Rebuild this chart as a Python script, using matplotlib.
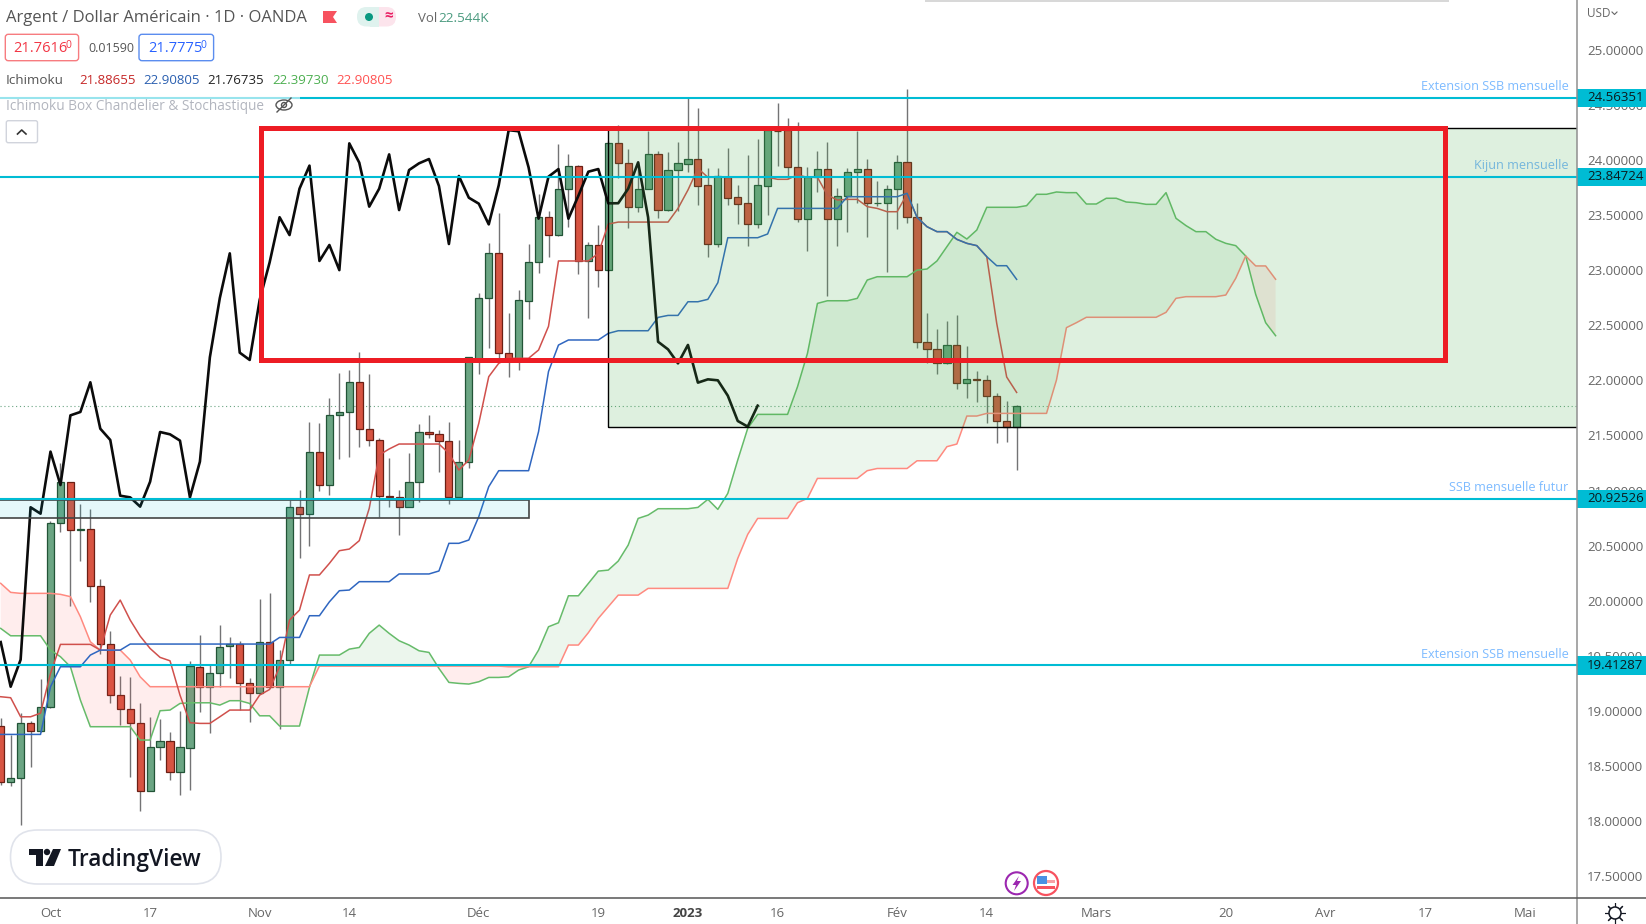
"""
Argent / Dollar Americain, 1D, Ichimoku with box and monthly levels
"""

import numpy as np
import matplotlib.pyplot as plt
from matplotlib.patches import Rectangle, FancyBboxPatch, Circle, Polygon, Ellipse

plt.rcParams['font.family'] = ['Open Sans', 'DejaVu Sans']

#%% Data (first candle is 5 bars before the Oct 3 tick)

first_bar = -5
opens = [18.866, 18.354, 18.388, 18.887, 18.814, 19.035, 20.702, 21.074, 20.642, 20.654,
         20.137, 19.604, 19.144, 19.014, 18.887, 18.276, 18.669, 18.723, 18.445, 18.666,
         19.400, 19.214, 19.347, 19.586, 19.604, 19.256, 19.165, 19.625, 19.220, 19.462,
         20.848, 20.790, 21.353, 21.050, 21.682, 21.713, 21.982, 21.561, 21.459, 20.953,
         20.944, 20.854, 21.080, 21.531, 21.510, 21.453, 20.938, 21.262, 22.193, 22.750,
         23.152, 22.251, 22.185, 22.720, 23.070, 23.479, 23.318, 23.739, 23.948, 23.083,
         23.228, 23.000, 24.150, 23.975, 23.576, 23.739, 24.050, 23.545, 23.905, 23.966,
         24.008, 23.769, 23.237, 23.848, 23.660, 23.606, 23.415, 23.763, 24.265, 24.270,
         23.938, 23.467, 23.848, 23.917, 23.467, 23.675, 23.893, 23.917, 23.605, 23.606,
         23.739, 23.978, 23.479, 22.351, 22.281, 22.154, 22.321, 21.979, 22.012, 22.000,
         21.861, 21.631, 21.580]
closes = [18.354, 18.388, 18.887, 18.814, 19.035, 20.702, 21.074, 20.642, 20.654, 20.134,
          19.604, 19.144, 19.014, 18.887, 18.276, 18.669, 18.723, 18.445, 18.669, 19.410,
          19.214, 19.347, 19.583, 19.604, 19.256, 19.165, 19.625, 19.220, 19.465, 20.848,
          20.790, 21.353, 21.050, 21.682, 21.713, 21.982, 21.561, 21.459, 20.953, 20.938,
          20.854, 21.080, 21.531, 21.510, 21.453, 20.938, 21.262, 22.209, 22.747, 23.152,
          22.251, 22.185, 22.730, 23.070, 23.480, 23.318, 23.739, 23.948, 23.083, 23.228,
          23.000, 24.150, 23.975, 23.576, 23.739, 24.050, 23.545, 23.908, 23.969, 24.008,
          23.763, 23.237, 23.854, 23.657, 23.603, 23.415, 23.769, 24.270, 24.260, 23.932,
          23.467, 23.848, 23.917, 23.467, 23.675, 23.893, 23.917, 23.606, 23.607, 23.739,
          23.978, 23.479, 22.350, 22.281, 22.154, 22.321, 21.979, 22.009, 22.000, 21.861,
          21.631, 21.580, 21.770]
highs = [18.940, 18.780, 18.980, 18.910, 19.286, 20.720, 21.247, 21.080, 20.878, 20.830,
         20.194, 19.728, 19.316, 19.304, 19.068, 18.941, 18.926, 18.808, 19.000, 19.450,
         19.688, 19.430, 19.779, 19.667, 19.637, 19.300, 20.020, 20.070, 19.550, 20.914,
         21.005, 21.625, 21.616, 21.837, 22.064, 22.094, 22.254, 22.057, 21.474, 21.292,
         21.005, 21.338, 21.604, 21.685, 21.550, 21.625, 21.459, 22.210, 22.790, 23.243,
         23.521, 22.608, 22.820, 23.240, 23.690, 23.540, 24.141, 24.053, 23.954, 23.258,
         23.410, 24.170, 24.317, 24.099, 23.980, 24.265, 24.081, 24.069, 24.159, 24.574,
         24.468, 23.923, 23.923, 24.111, 23.772, 24.044, 24.190, 24.280, 24.513, 24.377,
         24.347, 23.938, 24.081, 24.159, 23.742, 23.930, 24.265, 24.008, 23.809, 23.772,
         24.041, 24.640, 23.606, 22.614, 22.463, 22.542, 22.593, 22.312, 22.085, 22.045,
         21.882, 21.816, 21.780]
lows = [18.330, 18.320, 17.964, 18.494, 18.810, 19.030, 20.620, 19.950, 20.360, 19.990,
        19.520, 19.068, 18.872, 18.403, 18.094, 18.270, 18.554, 18.373, 18.233, 18.282,
        18.990, 18.796, 19.214, 19.295, 19.008, 18.902, 19.150, 19.210, 18.840, 19.416,
        20.390, 20.497, 20.999, 20.960, 21.283, 21.301, 21.392, 21.400, 20.763, 20.854,
        20.597, 20.848, 20.900, 21.474, 21.171, 20.878, 20.930, 21.200, 22.057, 22.290,
        22.200, 22.027, 22.094, 22.560, 22.970, 23.120, 23.309, 23.394, 22.965, 22.562,
        22.844, 22.990, 23.833, 23.385, 23.524, 23.733, 23.476, 23.540, 23.536, 23.887,
        23.591, 23.122, 23.213, 23.591, 23.420, 23.222, 23.385, 23.500, 23.945, 23.824,
        23.433, 23.176, 23.712, 22.765, 23.222, 23.343, 23.606, 23.303, 23.580, 22.986,
        23.373, 23.430, 22.296, 22.154, 22.058, 22.150, 21.918, 21.837, 21.800, 21.610,
        21.428, 21.437, 21.186]

tenkan = [19.129, 19.120, 18.947, 18.947, 18.980, 19.340, 19.604, 19.604, 19.604, 19.604,
          19.552, 19.870, 20.006, 19.825, 19.679, 19.567, 19.486, 19.455, 19.144, 18.893,
          18.887, 18.887, 18.947, 19.008, 19.008, 19.008, 19.144, 19.195, 19.401, 19.825,
          19.915, 20.234, 20.234, 20.339, 20.454, 20.469, 20.545, 20.838, 21.322, 21.377,
          21.422, 21.422, 21.422, 21.422, 21.422, 21.338, 21.186, 21.277, 21.610, 22.033,
          22.154, 22.200, 22.200, 22.200, 22.275, 22.490, 23.083, 23.083, 23.083, 23.083,
          23.152, 23.418, 23.436, 23.436, 23.436, 23.436, 23.436, 23.436, 23.560, 23.727,
          23.923, 23.842, 23.842, 23.842, 23.842, 23.842, 23.842, 23.842, 23.824, 23.824,
          23.863, 23.842, 23.842, 23.681, 23.636, 23.642, 23.642, 23.576, 23.560, 23.530,
          23.530, 23.690, 23.479, 23.394, 23.349, 23.349, 23.279, 23.243, 23.222, 23.122,
          22.517, 22.030, 21.890]
kijun = [18.787, 18.787, 18.787, 18.787, 18.787, 19.220, 19.401, 19.401, 19.401, 19.507,
         19.552, 19.552, 19.552, 19.607, 19.607, 19.607, 19.607, 19.607, 19.607, 19.607,
         19.607, 19.607, 19.607, 19.607, 19.607, 19.607, 19.607, 19.607, 19.667, 19.667,
         19.667, 19.864, 19.864, 19.990, 20.091, 20.097, 20.173, 20.173, 20.173, 20.173,
         20.243, 20.243, 20.243, 20.243, 20.270, 20.521, 20.521, 20.551, 20.763, 21.035,
         21.180, 21.180, 21.180, 21.180, 21.534, 22.080, 22.320, 22.366, 22.366, 22.366,
         22.366, 22.426, 22.450, 22.450, 22.450, 22.450, 22.571, 22.589, 22.589, 22.713,
         22.713, 22.735, 22.886, 23.294, 23.294, 23.294, 23.294, 23.328, 23.560, 23.560,
         23.560, 23.560, 23.560, 23.560, 23.560, 23.666, 23.666, 23.666, 23.666, 23.666,
         23.666, 23.697, 23.479, 23.394, 23.349, 23.349, 23.279, 23.243, 23.222, 23.122,
         23.040, 23.040, 22.916]
chikou = [19.625, 19.220, 19.465, 20.848, 20.790, 21.353, 21.050, 21.682, 21.713, 21.982,
          21.561, 21.459, 20.953, 20.938, 20.854, 21.080, 21.531, 21.510, 21.453, 20.938,
          21.262, 22.209, 22.747, 23.152, 22.251, 22.185, 22.730, 23.070, 23.480, 23.318,
          23.739, 23.948, 23.083, 23.228, 23.000, 24.150, 23.975, 23.576, 23.739, 24.050,
          23.545, 23.908, 23.969, 24.008, 23.763, 23.237, 23.854, 23.657, 23.603, 23.415,
          23.769, 24.270, 24.260, 23.932, 23.467, 23.848, 23.917, 23.467, 23.675, 23.893,
          23.917, 23.606, 23.607, 23.739, 23.978, 23.479, 22.350, 22.281, 22.154, 22.321,
          21.979, 22.009, 22.000, 21.861, 21.631, 21.580, 21.770]
senkou_a = [19.749, 19.682, 19.682, 19.682, 19.682, 19.552, 19.492, 19.401, 19.099, 18.857,
            18.857, 18.857, 18.857, 18.857, 18.736, 18.736, 19.002, 19.008, 19.068, 19.074,
            19.074, 19.074, 19.053, 19.093, 19.093, 19.068, 18.956, 18.956, 18.863, 18.863,
            18.863, 19.214, 19.507, 19.507, 19.507, 19.561, 19.576, 19.704, 19.779, 19.704,
            19.637, 19.598, 19.546, 19.531, 19.386, 19.259, 19.250, 19.244, 19.265, 19.304,
            19.304, 19.310, 19.371, 19.401, 19.552, 19.764, 19.800, 20.045, 20.045, 20.157,
            20.269, 20.278, 20.360, 20.505, 20.747, 20.777, 20.835, 20.835, 20.835, 20.835,
            20.847, 20.920, 20.829, 20.974, 21.277, 21.564, 21.691, 21.691, 21.691, 21.691,
            21.942, 22.245, 22.698, 22.722, 22.722, 22.722, 22.744, 22.910, 22.940, 22.940,
            22.940, 22.940, 23.000, 23.010, 23.083, 23.213, 23.343, 23.282, 23.364, 23.570,
            23.570, 23.570, 23.570, 23.585, 23.688, 23.688, 23.709, 23.703, 23.703, 23.600,
            23.600, 23.652, 23.652, 23.618, 23.612, 23.597, 23.597, 23.703, 23.470, 23.404,
            23.349, 23.349, 23.280, 23.243, 23.222, 23.128, 22.780, 22.523, 22.405]
senkou_b = [20.158, 20.076, 20.067, 20.067, 20.067, 20.067, 20.058, 20.037, 19.855, 19.628,
            19.552, 19.552, 19.552, 19.462, 19.310, 19.220, 19.220, 19.220, 19.220, 19.220,
            19.220, 19.220, 19.220, 19.220, 19.220, 19.220, 19.220, 19.220, 19.220, 19.220,
            19.220, 19.220, 19.407, 19.407, 19.407, 19.407, 19.407, 19.407, 19.407, 19.407,
            19.407, 19.407, 19.407, 19.407, 19.407, 19.407, 19.407, 19.407, 19.407, 19.407,
            19.407, 19.401, 19.401, 19.401, 19.401, 19.401, 19.401, 19.598, 19.598, 19.710,
            19.840, 19.946, 20.051, 20.051, 20.051, 20.112, 20.112, 20.112, 20.112, 20.112,
            20.112, 20.112, 20.112, 20.112, 20.384, 20.602, 20.747, 20.747, 20.747, 20.747,
            20.889, 20.929, 21.110, 21.110, 21.110, 21.110, 21.110, 21.180, 21.200, 21.200,
            21.200, 21.200, 21.270, 21.270, 21.270, 21.398, 21.422, 21.676, 21.676, 21.700,
            21.700, 21.700, 21.700, 21.700, 21.700, 21.700, 22.003, 22.478, 22.523, 22.572,
            22.572, 22.572, 22.572, 22.572, 22.572, 22.572, 22.572, 22.617, 22.744, 22.759,
            22.759, 22.759, 22.759, 22.774, 22.926, 23.128, 23.038, 23.038, 22.917]

levels = [24.56351, 23.84724, 20.92526, 19.41287]
level_names = ['Extension SSB mensuelle', 'Kijun mensuelle', 'SSB mensuelle futur',
               'Extension SSB mensuelle']
last_price = 21.77
price_ticks = [17.5, 18, 18.5, 19, 19.5, 20, 20.5, 21, 21.5, 22, 22.5, 23, 23.5, 24, 24.5, 25]
time_ticks = [0, 10, 21, 30, 43, 55, 64, 73, 85, 94, 105, 118, 128, 138, 148]
time_labels = ['Oct', '17', 'Nov', '14', 'Déc', '19', '2023', '16', 'Fév', '14', 'Mars', '20',
               'Avr', '17', 'Mai']

green_box = (56, 21.58, 24.29)
cyan_box = (48.07, 20.753, 20.913)
red_box = (21.17, 140.0, 22.181, 24.287)

#%% Chart panel

W, H = 1646, 924
right_px, bottom_px = 1576.7, 898.3
fig = plt.figure(figsize=(W/100, H/100), dpi=100, facecolor='white')
ax = fig.add_axes([0, 1 - bottom_px/H, right_px/W, bottom_px/H])
ax.set_xlim(-5.07, 153.23)
ax.set_ylim(17.3, 25.451)

bars = np.arange(first_bar, first_bar + len(closes))
opens, closes, highs, lows = map(np.array, (opens, closes, highs, lows))
up = closes >= opens
ax.vlines(bars, lows, highs, color='#737375', lw=1.0, zorder=2)
ax.bar(bars[up], (closes-opens)[up], bottom=opens[up], width=0.72, color='#6ba583',
       edgecolor='#225437', lw=0.9, zorder=2.1)
ax.bar(bars[~up], (opens-closes)[~up], bottom=closes[~up], width=0.72, color='#d75442',
       edgecolor='#6b1f14', lw=0.9, zorder=2.1)

cloud = np.arange(first_bar, first_bar + len(senkou_a))
a, b = np.array(senkou_a), np.array(senkou_b)
ax.fill_between(cloud, a, b, where=a >= b, interpolate=True, color='#4caf50', alpha=0.1, lw=0, zorder=2.5)
ax.fill_between(cloud, a, b, where=a < b, interpolate=True, color='#ff5252', alpha=0.1, lw=0, zorder=2.5)
ax.plot(cloud, a, color='#66bb6a', lw=1.1, zorder=3)
ax.plot(cloud, b, color='#ff8a80', lw=1.1, zorder=3)
ax.plot(np.arange(first_bar, first_bar + len(tenkan)), tenkan, color='#d0504c', lw=1.1, zorder=3)
ax.plot(np.arange(first_bar, first_bar + len(kijun)), kijun, color='#2f66c0', lw=1.1, zorder=3)
ax.plot(np.arange(first_bar, first_bar + len(chikou)), chikou, color='#0b0b0b', lw=1.9, zorder=3.1)

ax.axhline(last_price, color='#6ba583', lw=0.8, ls=(0, (1, 2.5)), zorder=1)

# the box sits over the candles and tints them
x0, y0, y1 = green_box
ax.add_patch(Rectangle((x0, y0), 200, y1-y0, fc='#4caf50', alpha=0.18, lw=0, zorder=4))
ax.add_patch(Rectangle((x0, y0), 200, y1-y0, fc='none', ec='black', lw=1.0, zorder=4.1))

x1, y0, y1 = cyan_box
ax.add_patch(Rectangle((-10, y0), x1+10, y1-y0, fc='#00bcd4', alpha=0.1, lw=0, zorder=4))
ax.add_patch(Rectangle((-10, y0), x1+10, y1-y0, fc='none', ec='#444444', lw=1.2, zorder=4.1))

for lev in levels:
    ax.axhline(lev, color='#00bcd4', lw=1.5, zorder=5)

x0, x1, y0, y1 = red_box
ax.add_patch(Rectangle((x0, y0), x1-x0, y1-y0, fc='none', ec='#ed1c24', lw=3.6, joinstyle='miter', zorder=6))

ax.yaxis.tick_right()
ax.set_yticks(price_ticks)
ax.set_yticklabels(['%.5f' % p for p in price_ticks])
ax.tick_params(axis='y', length=0, pad=7.6, labelsize=9.5, labelcolor='#666666')
ax.set_xticks(time_ticks)
ax.set_xticklabels(time_labels)
ax.tick_params(axis='x', length=0, pad=6.2, labelsize=9.5, labelcolor='#666666')
ax.get_xticklabels()[6].set_fontweight('bold')
ax.get_xticklabels()[6].set_color('#444444')
for s in ['top', 'left', 'right', 'bottom']:
    ax.spines[s].set_visible(False)

# price tags, over the tick labels they hide
for lev in levels:
    ax.add_patch(Rectangle((1, lev-0.083), 70/right_px, 0.166, transform=ax.get_yaxis_transform(),
                           fc='#00bcd4', lw=0, clip_on=False, zorder=7))
    ax.annotate('%.5f' % lev, xy=(1, lev), xycoords=ax.get_yaxis_transform(), xytext=(7.6, 0),
                textcoords='offset points', va='center', ha='left', fontsize=9.5, color='#0b1a1e',
                annotation_clip=False, zorder=8)

#%% Everything around the chart, in picture pixels

ui = fig.add_axes([0, 0, 1, 1], zorder=20)
ui.set_xlim(0, W)
ui.set_ylim(H, 0)
ui.axis('off')

ui.plot([right_px, right_px], [0, H], color='#8f8f8f', lw=1.1)
ui.plot([0, W], [bottom_px, bottom_px], color='#555555', lw=1.1)
ui.add_patch(Rectangle((925, 0), 524, 1.5, fc='#d8d8d8', lw=0))

ui.add_patch(Rectangle((0, 93), 300, 22, fc='white', alpha=0.6, lw=0))


def label(x, y, s, color='#555555', size=10, ha='left', **kw):
    ui.text(x, y, s, color=color, fontsize=size, ha=ha, va='center', **kw)


label(6, 18.5, 'Argent / Dollar Américain · 1D · OANDA', size=12)
ui.add_patch(Polygon([(323, 11), (337, 11), (333, 17), (337, 23), (323, 23)], fc='#f7525f', lw=0))
ui.add_patch(FancyBboxPatch((362, 7), 34, 19.5, boxstyle='round,pad=0,rounding_size=9.5',
                            mutation_aspect=1, fc='#fce4ec', lw=0))
ui.add_patch(FancyBboxPatch((357, 7), 22, 19.5, boxstyle='round,pad=0,rounding_size=9.5', fc='#dff2ee', lw=0))
ui.add_patch(Rectangle((370, 7), 9, 19.5, fc='#dff2ee', lw=0))
ui.add_patch(Circle((369, 17), 4, fc='#089981', lw=0))
label(389, 16, '≈', color='#e91e63', size=11, ha='center', fontweight='bold')
label(418, 18.5, 'Vol', color='#666666', size=9.5)
label(438, 18.5, '22.544K', color='#4a9a7f', size=9.7)

ui.add_patch(FancyBboxPatch((5.3, 34.3), 73.3, 26.4, boxstyle='round,pad=0,rounding_size=3',
                            fc='white', ec='#f77c80', lw=1))
label(13, 48, '21.7616', color='#f23645', size=10.5)
label(66, 46, '0', color='#f23645', size=7.5)
label(88, 48, '0.01590', size=9)
ui.add_patch(FancyBboxPatch((139, 34.3), 74.6, 26.4, boxstyle='round,pad=0,rounding_size=3',
                            fc='white', ec='#5b8def', lw=1))
label(148, 48, '21.7775', color='#2962ff', size=10.5)
label(201, 46, '0', color='#2962ff', size=7.5)

label(6, 80, 'Ichimoku', size=9.7)
label(79, 80, '21.88655', color='#c62828', size=9.5)
label(143.5, 80, '22.90805', color='#2a5fb0', size=9.5)
label(207.6, 80, '21.76735', color='#222222', size=9.5)
label(272, 80, '22.39730', color='#4caf50', size=9.5)
label(336.7, 80, '22.90805', color='#ff5252', size=9.5)

label(6, 106.5, 'Ichimoku Box Chandelier & Stochastique', color='#b2b5be', size=9.8)
ui.add_patch(Ellipse((284, 105), 16, 10, fc='none', ec='#555555', lw=1))
ui.add_patch(Circle((284, 105), 2.5, fc='none', ec='#555555', lw=1))
ui.plot([277, 291], [112, 98], color='#555555', lw=1)

ui.add_patch(FancyBboxPatch((6.3, 120.7), 31.2, 22, boxstyle='round,pad=0,rounding_size=2',
                            fc='white', ec='#d1d4dc', lw=1))
ui.plot([17.5, 21.7, 26], [134, 130, 134], color='#333333', lw=1.2)

for y, name in zip([86, 165, 487.3, 654.3], level_names):
    col = '#74b6dc' if name.startswith('Kijun') else '#7dbbff'
    label(1568.3, y, name, color=col, size=9.1, ha='right')

label(1587.5, 13.5, 'USD', color='#666666', size=8.5)
ui.plot([1612, 1614.5, 1617], [12, 14.5, 12], color='#666666', lw=0.8)

# logo
ui.add_patch(FancyBboxPatch((10.5, 830), 210.5, 54, boxstyle='round,pad=0,rounding_size=27',
                            fc='white', ec='#e0e3eb', lw=1.2))
ui.add_patch(Polygon([(29, 849), (43, 849), (43, 866), (36, 866), (36, 855), (29, 855)], fc='#131722', lw=0))
ui.add_patch(Circle((47, 852), 3.2, fc='#131722', lw=0))
ui.add_patch(Polygon([(53, 849), (61, 849), (54, 866), (45, 866)], fc='#131722', lw=0))
label(68, 859.5, 'TradingView', color='#131722', size=16.4, fontweight='semibold')

# event markers and settings
ui.add_patch(Circle((1016.7, 883.3), 11, fc='white', ec='#9c27b0', lw=1.5))
ui.add_patch(Polygon([(1019, 876), (1012.5, 885), (1016, 885), (1014, 891), (1021, 881), (1017, 881)],
                     fc='#9c27b0', lw=0))
ui.add_patch(Circle((1046, 883), 12, fc='white', ec='#f7525f', lw=1.6))
ui.add_patch(Rectangle((1037, 886), 18, 2.5, fc='#f7525f', lw=0))
ui.add_patch(Rectangle((1037, 880), 18, 2.5, fc='#f7a0a5', lw=0))
ui.add_patch(Rectangle((1037, 875.5), 10, 8.5, fc='#4a90e2', lw=0))

ui.plot([1615], [913], marker=(8, 2, 0), ms=15, mec='#131722', mew=0.8, zorder=1)
ui.add_patch(Circle((1615, 913), 6, fc='white', ec='#131722', lw=1.1, zorder=3))

fig.savefig('out.png', dpi=100)
